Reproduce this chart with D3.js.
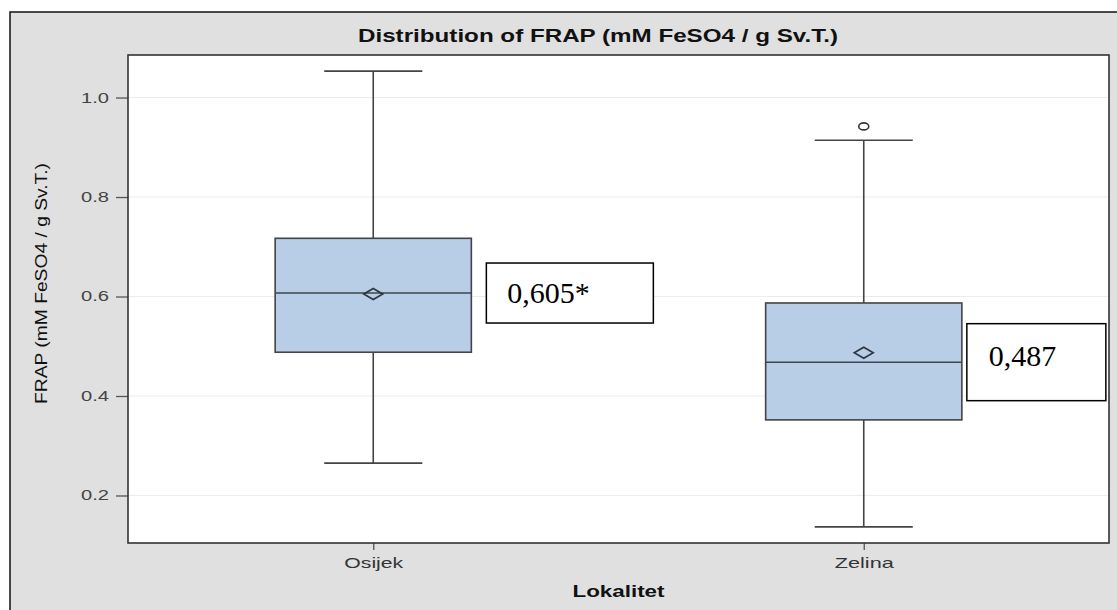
<!DOCTYPE html>
<html><head><meta charset="utf-8">
<script src="https://cdn.jsdelivr.net/npm/d3@7"></script>
<style>
html,body{margin:0;padding:0;background:#fff;}
svg{display:block;}
</style></head>
<body>
<svg id="chart" width="1117" height="610"></svg>
<script>
const categories = ["Osijek", "Zelina"];
const q1 = [0.488, 0.352];
const median = [0.607, 0.468];
const q3 = [0.717, 0.587];
const whiskerLow = [0.265, 0.137];
const whiskerHigh = [1.053, 0.914];
const means = [0.605, 0.487];
const outliers = [[], [0.942]];
const annotations = ["0,605*", "0,487"];
const yTicks = [0.2, 0.4, 0.6, 0.8, 1.0];
const titleText = "Distribution of FRAP (mM FeSO4 / g Sv.T.)";
const yLabel = "FRAP (mM FeSO4 / g Sv.T.)";
const xLabel = "Lokalitet";

const svg = d3.select("#chart");
const W = 1117, H = 610;
const plot = {left: 128, top: 55, right: 1109, bottom: 543};

// outer frame
svg.append("rect").attr("x", 10).attr("y", 12).attr("width", W - 10).attr("height", H - 12).attr("fill", "#e0e0e0");
svg.append("path").attr("d", `M10,${H}V12H${W}`).attr("fill", "none").attr("stroke", "#111").attr("stroke-width", 1.5);

// plot area
svg.append("rect").attr("x", plot.left).attr("y", plot.top)
  .attr("width", plot.right - plot.left).attr("height", plot.bottom - plot.top).attr("fill", "#fff");

const x = d3.scalePoint().domain(categories).range([plot.left, plot.right]).padding(0.5);
const y = d3.scaleLinear().domain([0.1045, 1.0855]).range([plot.bottom, plot.top]);
const step = x.step();
const boxW = step * 0.4;
const capW = boxW * 0.5;

// gridlines
svg.append("g").selectAll("line").data(yTicks).join("line")
  .attr("x1", plot.left).attr("x2", plot.right)
  .attr("y1", d => y(d)).attr("y2", d => y(d))
  .attr("stroke", "#ececec").attr("stroke-width", 1);

// y axis
const yAxis = svg.append("g").attr("transform", `translate(${plot.left},0)`)
  .call(d3.axisLeft(y).tickValues(yTicks).tickFormat(d3.format(".1f")).tickSize(12).tickPadding(7));
yAxis.select(".domain").remove();
yAxis.selectAll(".tick line").attr("stroke", "#555").attr("stroke-width", 1.3);
yAxis.selectAll(".tick text").attr("font-family", "Liberation Sans, Arial, sans-serif")
  .attr("font-size", 14).attr("fill", "#444").attr("textLength", 28).attr("lengthAdjust", "spacingAndGlyphs");

// x axis
const xAxis = svg.append("g").attr("transform", `translate(0,${plot.bottom})`)
  .call(d3.axisBottom(x).tickSize(7).tickPadding(13));
xAxis.select(".domain").remove();
xAxis.selectAll(".tick line").attr("stroke", "#555").attr("stroke-width", 1.3);
xAxis.selectAll(".tick text").attr("font-family", "Liberation Sans, Arial, sans-serif")
  .attr("font-size", 15).attr("fill", "#333").attr("textLength", 59).attr("lengthAdjust", "spacingAndGlyphs")
  .attr("dy", null).attr("y", 25).attr("dominant-baseline", "alphabetic");

// boxes
const g = svg.append("g");
categories.forEach((c, i) => {
  const cx = x(c);
  const stroke = "#444";
  g.append("line").attr("x1", cx).attr("x2", cx).attr("y1", y(q3[i])).attr("y2", y(whiskerHigh[i])).attr("stroke", stroke).attr("stroke-width", 1.6);
  g.append("line").attr("x1", cx).attr("x2", cx).attr("y1", y(q1[i])).attr("y2", y(whiskerLow[i])).attr("stroke", stroke).attr("stroke-width", 1.6);
  g.append("line").attr("x1", cx - capW / 2).attr("x2", cx + capW / 2).attr("y1", y(whiskerHigh[i])).attr("y2", y(whiskerHigh[i])).attr("stroke", stroke).attr("stroke-width", 1.6);
  g.append("line").attr("x1", cx - capW / 2).attr("x2", cx + capW / 2).attr("y1", y(whiskerLow[i])).attr("y2", y(whiskerLow[i])).attr("stroke", stroke).attr("stroke-width", 1.6);
  g.append("rect").attr("x", cx - boxW / 2).attr("y", y(q3[i])).attr("width", boxW).attr("height", y(q1[i]) - y(q3[i]))
    .attr("fill", "#b8cde6").attr("stroke", stroke).attr("stroke-width", 1.6);
  g.append("line").attr("x1", cx - boxW / 2).attr("x2", cx + boxW / 2).attr("y1", y(median[i])).attr("y2", y(median[i])).attr("stroke", "#3d4650").attr("stroke-width", 1.6);
  const my = y(means[i]);
  g.append("path").attr("d", `M${cx - 9.5},${my}L${cx},${my - 5.5}L${cx + 9.5},${my}L${cx},${my + 5.5}Z`)
    .attr("fill", "none").attr("stroke", "#2c3540").attr("stroke-width", 1.6);
  outliers[i].forEach(o => {
    g.append("ellipse").attr("cx", cx).attr("cy", y(o)).attr("rx", 5).attr("ry", 3.5)
      .attr("fill", "none").attr("stroke", "#333").attr("stroke-width", 1.6);
  });
});

// plot border
svg.append("rect").attr("x", plot.left).attr("y", plot.top)
  .attr("width", plot.right - plot.left).attr("height", plot.bottom - plot.top)
  .attr("fill", "none").attr("stroke", "#333").attr("stroke-width", 1.6);

// annotation boxes
const annLayout = [
  {dx: 15, w: 167, h: 60, tx: 21, ty: 10},
  {dx: 5, w: 139, h: 77, tx: 22, ty: 4}
];
categories.forEach((c, i) => {
  const L = annLayout[i];
  const bx = x(c) + boxW / 2 + L.dx;
  const by = y(median[i]) - L.h / 2;
  svg.append("rect").attr("x", bx).attr("y", by).attr("width", L.w).attr("height", L.h)
    .attr("fill", "#fff").attr("stroke", "#000").attr("stroke-width", 1.5);
  svg.append("text").attr("x", bx + L.tx).attr("y", y(median[i]) + L.ty)
    .attr("font-family", "Liberation Serif, Times New Roman, serif").attr("font-size", 30).attr("fill", "#000")
    .text(annotations[i]);
});

// title
svg.append("text").attr("x", 598).attr("y", 42).attr("text-anchor", "middle")
  .attr("font-family", "Liberation Sans, Arial, sans-serif").attr("font-weight", "bold").attr("font-size", 17.5)
  .attr("textLength", 480).attr("lengthAdjust", "spacingAndGlyphs").attr("fill", "#111").text(titleText);

// axis labels
svg.append("text").attr("x", (plot.left + plot.right) / 2).attr("y", 597).attr("text-anchor", "middle")
  .attr("font-family", "Liberation Sans, Arial, sans-serif").attr("font-weight", "bold").attr("font-size", 16)
  .attr("textLength", 92).attr("lengthAdjust", "spacingAndGlyphs").attr("fill", "#111").text(xLabel);

svg.append("text").attr("transform", `translate(47,283.5) rotate(-90)`).attr("text-anchor", "middle")
  .attr("font-family", "Liberation Sans, Arial, sans-serif").attr("font-size", 17)
  .attr("textLength", 241).attr("lengthAdjust", "spacingAndGlyphs").attr("fill", "#111").text(yLabel);
</script>
</body></html>
